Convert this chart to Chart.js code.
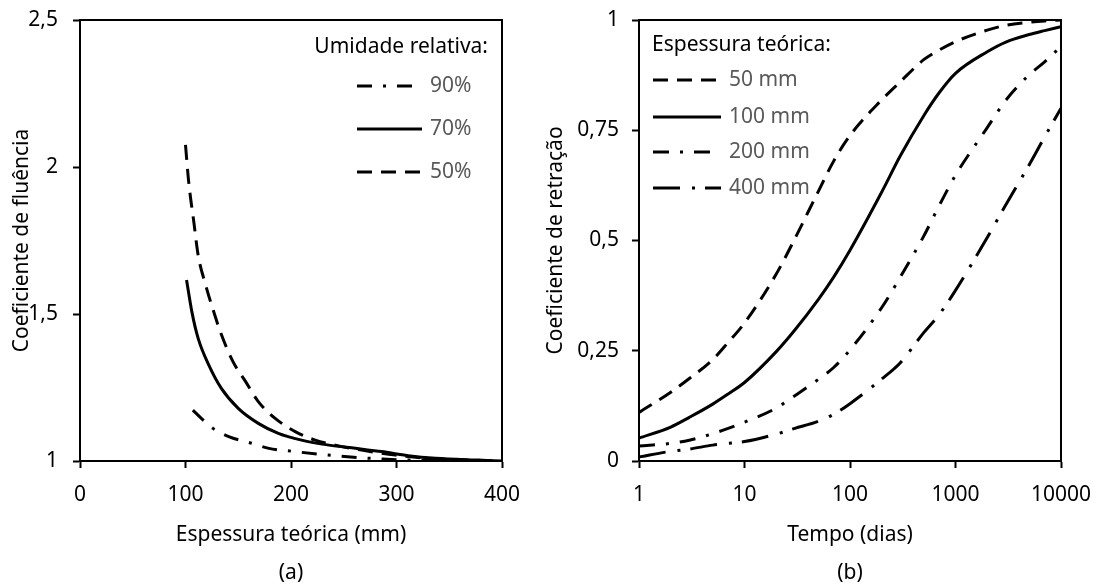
<!DOCTYPE html>
<html>
<head>
<meta charset="utf-8">
<script src="https://cdn.jsdelivr.net/npm/chart.js@4/dist/chart.umd.min.js"></script>
<style>
	body { margin: 0; background: #fff; overflow: hidden; }
	#left { position: absolute; left: 0; top: 0; width: 540px; height: 586px; }
	#right { position: absolute; left: 540px; top: 0; width: 557px; height: 586px; }
</style>
</head>
<body>
<div id="left"><canvas id="plotA"></canvas></div>
<div id="right"><canvas id="plotB"></canvas></div>
<script>
// (a) coeficiente de fluencia x espessura teorica
const esp90 = [107, 115, 126, 141, 163, 179, 204, 226, 245, 267, 286, 311, 350, 400]
const ur90 = [1.173, 1.145, 1.111, 1.083, 1.06, 1.043, 1.032, 1.023, 1.017, 1.011, 1.007, 1.003, 1.001, 1.0]
const esp70 = [101, 106, 112, 122, 134, 150, 169, 188, 210, 236, 261, 286, 311, 337, 375, 400]
const ur70 = [1.616, 1.508, 1.417, 1.327, 1.247, 1.179, 1.128, 1.094, 1.071, 1.054, 1.043, 1.032, 1.018, 1.009, 1.003, 1.0]
const esp50 = [100, 103, 108, 112, 119, 127, 134, 145, 157, 169, 185, 204, 223, 242, 267, 299, 330, 370, 400]
const ur50 = [2.075, 1.95, 1.81, 1.70, 1.60, 1.505, 1.43, 1.338, 1.27, 1.202, 1.145, 1.10, 1.071, 1.054, 1.037, 1.02, 1.009, 1.003, 1.0]
const ticksA_x = [0, 100, 200, 300, 400]
const ticksA_y = [1, 1.5, 2, 2.5]

// (b) coeficiente de retracao x tempo
const tempo = [1, 2, 3, 5, 7, 10, 20, 30, 50, 70, 100, 200, 300, 500, 700, 1000, 2000, 3000, 5000, 7000, 10000]
const ret50 = [0.11, 0.156, 0.187, 0.23, 0.269, 0.313, 0.424, 0.504, 0.611, 0.68, 0.738, 0.819, 0.86, 0.91, 0.932, 0.951, 0.977, 0.988, 0.995, 0.998, 1.0]
const ret100 = [0.052, 0.077, 0.099, 0.129, 0.152, 0.178, 0.248, 0.297, 0.366, 0.417, 0.478, 0.61, 0.692, 0.783, 0.835, 0.879, 0.928, 0.95, 0.967, 0.976, 0.985]
const ret200 = [0.034, 0.04, 0.047, 0.062, 0.074, 0.088, 0.12, 0.148, 0.185, 0.212, 0.252, 0.348, 0.417, 0.51, 0.579, 0.648, 0.756, 0.818, 0.876, 0.905, 0.94]
const ret400 = [0.009, 0.022, 0.027, 0.036, 0.04, 0.044, 0.061, 0.074, 0.09, 0.106, 0.13, 0.186, 0.223, 0.291, 0.332, 0.387, 0.507, 0.581, 0.672, 0.735, 0.80]
const ticksB_x = [1, 10, 100, 1000, 10000]
const ticksB_y = [0, 0.25, 0.5, 0.75, 1]

const FONT = "'Noto Sans', 'Open Sans', sans-serif"
const SIZE = 21
const toPoints = (xs, ys) => xs.map((x, i) => ({x: x, y: ys[i]}))
const comma = v => String(v).replace('.', ',')

function line(label, xs, ys, dash, sample) {
	return {
		label: label,
		data: toPoints(xs, ys),
		borderColor: 'black',
		borderWidth: 3,
		borderDash: dash,
		borderCapStyle: 'butt',
		pointRadius: 0,
		cubicInterpolationMode: 'monotone',
		fill: false,
		sampleLength: sample
	}
}

// frame + legend drawn by hand
const framePlugin = {
	id: 'frame',
	afterDatasetsDraw(chart) {
		const a = chart.chartArea
		const ctx = chart.ctx
		ctx.save()
		ctx.strokeStyle = 'black'
		ctx.lineWidth = 2
		ctx.strokeRect(a.left, a.top, a.right - a.left, a.bottom - a.top)
		ctx.restore()
	},
	afterDraw(chart, args, opts) {
		const ctx = chart.ctx
		ctx.save()
		ctx.font = SIZE + 'px ' + FONT
		ctx.textBaseline = 'middle'
		ctx.fillStyle = 'black'
		ctx.textAlign = opts.titleAlign
		ctx.fillText(opts.title, opts.titleX, opts.titleY)
		ctx.textAlign = 'left'
		chart.data.datasets.forEach((ds, i) => {
			const y = opts.rows[i]
			ctx.strokeStyle = 'black'
			ctx.lineWidth = 3
			ctx.lineCap = 'butt'
			ctx.setLineDash(ds.borderDash || [])
			ctx.beginPath()
			ctx.moveTo(opts.x0, y)
			ctx.lineTo(opts.x0 + (ds.sampleLength || opts.len), y)
			ctx.stroke()
			ctx.setLineDash([])
			ctx.fillStyle = '#595959'
			ctx.fillText(ds.label, opts.textX, y)
		})
		ctx.restore()
	}
}

function axis(min, max, ticks, title, lh, titlePad, tickPad) {
	return {
		min: min,
		max: max,
		afterBuildTicks: s => { s.ticks = ticks.map(v => ({value: v})) },
		grid: { drawOnChartArea: false, drawTicks: true, tickLength: 7, tickWidth: 2, tickColor: 'black' },
		border: { display: true, color: 'black', width: 2 },
		ticks: { color: 'black', font: { family: FONT, size: SIZE }, padding: tickPad, callback: v => comma(v), maxRotation: 0, autoSkip: false },
		title: { display: true, text: title, color: 'black', font: { family: FONT, size: SIZE, lineHeight: lh }, padding: titlePad }
	}
}

function defineChart(id, datasets, xAxis, yAxis, yWidth, padRight, legend) {
	xAxis.afterFit = s => { s.height = 125; s.paddingLeft = 0; s.paddingRight = 0 }
	yAxis.afterFit = s => { s.width = yWidth; s.paddingTop = 0; s.paddingBottom = 0 }
	return new Chart(document.getElementById(id), {
		type: 'line',
		data: { datasets: datasets },
		options: {
			responsive: true,
			maintainAspectRatio: false,
			animation: false,
			layout: { padding: { left: 0, right: padRight, top: 20, bottom: 0 } },
			plugins: { legend: { display: false }, tooltip: { enabled: false }, frame: legend },
			scales: { x: xAxis, y: yAxis }
		},
		plugins: [framePlugin]
	})
}

const xA = axis(0, 400, ticksA_x, ['Espessura teórica (mm)', '(a)'], 1.81, { top: 0, bottom: -6 }, 14)
xA.type = 'linear'
const yA = axis(1, 2.5, ticksA_y, 'Coeficiente de fluência', 1.2, { top: 9, bottom: 0 }, 15)
defineChart('plotA', [
	line('90%', esp90, ur90, [15, 11, 3, 11], 56),
	line('70%', esp70, ur70, [], 65),
	line('50%', esp50, ur50, [15, 9], 65)
], xA, yA, 80, 38, {
	title: 'Umidade relativa:', titleAlign: 'right', titleX: 488, titleY: 47,
	x0: 357, len: 65, textX: 430, rows: [86, 129, 172]
})

const xB = axis(1, 10000, ticksB_x, ['Tempo (dias)', '(b)'], 1.81, { top: 0, bottom: -6 }, 14)
xB.type = 'logarithmic'
const yB = axis(0, 1, ticksB_y, 'Coeficiente de retração', 1.2, { top: 3, bottom: 0 }, 13)
defineChart('plotB', [
	line('50 mm', tempo, ret50, [15, 9], 68),
	line('100 mm', tempo, ret100, [], 68),
	line('200 mm', tempo, ret200, [16, 11, 3, 11], 57),
	line('400 mm', tempo, ret400, [27, 12, 3, 10], 68)
], xB, yB, 99, 36, {
	title: 'Espessura teórica:', titleAlign: 'left', titleX: 112, titleY: 45,
	x0: 113, len: 68, textX: 189, rows: [80, 117, 152, 188]
})
</script>
</body>
</html>
